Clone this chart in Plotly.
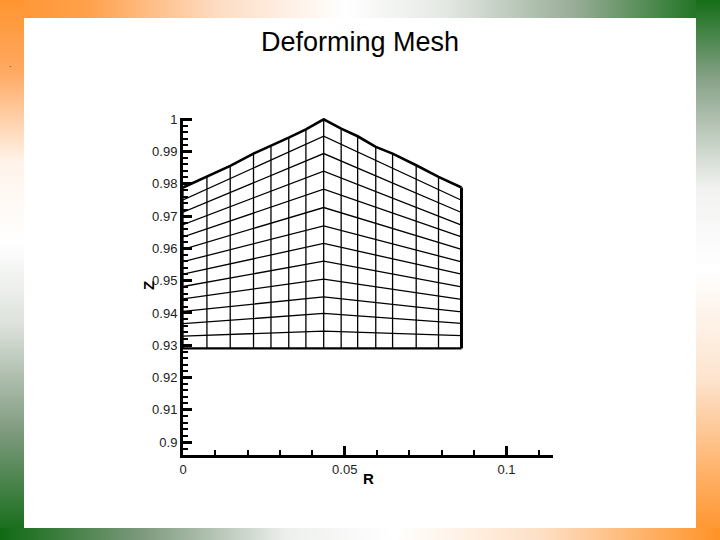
import base64
import plotly.graph_objects as go

# ---- data ----
col_r = [0.0, 0.0074, 0.0146, 0.0218, 0.0272, 0.0327, 0.0380, 0.0435,
         0.0489, 0.0540, 0.0596, 0.0648, 0.0721, 0.0790, 0.0861]
top_z = [0.97886, 0.98214, 0.98555, 0.98938, 0.99174, 0.99434, 0.99690, 1.0,
         0.99712, 0.99474, 0.99143, 0.98938, 0.98576, 0.98214, 0.97886]
bottom_z = 0.92903
# row heights (bottom -> top) at the left edge, at the peak column and at the right edge
row_left = [0.92903, 0.93284, 0.93668, 0.94051, 0.94435, 0.94819, 0.95203,
            0.95587, 0.95970, 0.96354, 0.96738, 0.97122, 0.97502, 0.97886]
row_peak = [0.92903, 0.93439, 0.93986, 0.94500, 0.95048, 0.95605, 0.96153,
            0.96698, 0.97267, 0.97833, 0.98391, 0.98938, 0.99474, 1.0]
row_right = [0.92903, 0.93299, 0.93677, 0.94036, 0.94420, 0.94810, 0.95203,
             0.95583, 0.95967, 0.96357, 0.96719, 0.97112, 0.97493, 0.97886]
peak_col = 7

x_range = [0.0, 0.1144]
y_range = [0.896, 1.0004]

W, H = 720, 540
ML, MR, MT, MB = 183, 167, 118, 85

fig = go.Figure()

# horizontal (constant-row) mesh lines
n_rows = len(row_left)
for k in range(n_rows - 1):
    fig.add_trace(go.Scatter(
        x=[col_r[0], col_r[peak_col], col_r[-1]],
        y=[row_left[k], row_peak[k], row_right[k]],
        mode="lines", line=dict(color="black", width=2.2 if k == 0 else 1.3),
        hoverinfo="skip", showlegend=False))

# vertical (constant-r) mesh lines
for i, r in enumerate(col_r):
    w = 3 if i == len(col_r) - 1 else 1.3
    fig.add_trace(go.Scatter(
        x=[r, r], y=[bottom_z, top_z[i]],
        mode="lines", line=dict(color="black", width=w),
        hoverinfo="skip", showlegend=False))

# top boundary
fig.add_trace(go.Scatter(
    x=col_r, y=top_z, mode="lines", line=dict(color="black", width=2.6),
    hoverinfo="skip", showlegend=False))

# ---- background frame (gradient border) ----
svg = f'''<svg xmlns="http://www.w3.org/2000/svg" width="{W}" height="{H}" viewBox="0 0 {W} {H}" preserveAspectRatio="none">
<defs>
<linearGradient id="top" x1="0" y1="0" x2="1" y2="0">
<stop offset="0" stop-color="#FF9530"/><stop offset="0.12" stop-color="#FFA04A"/>
<stop offset="0.3" stop-color="#FDDCC2"/><stop offset="0.48" stop-color="#FFFFFF"/>
<stop offset="0.62" stop-color="#E4E8E3"/><stop offset="0.8" stop-color="#97AC96"/>
<stop offset="1" stop-color="#0C6A10"/></linearGradient>
<linearGradient id="left" x1="0" y1="0" x2="0" y2="1">
<stop offset="0" stop-color="#FF9530"/><stop offset="0.13" stop-color="#FFA860"/>
<stop offset="0.3" stop-color="#FFF3EA"/><stop offset="0.45" stop-color="#FFFFFF"/>
<stop offset="0.6" stop-color="#DDE2DC"/><stop offset="0.8" stop-color="#7E9A7E"/>
<stop offset="1" stop-color="#0E6A12"/></linearGradient>
<linearGradient id="right" x1="0" y1="0" x2="0" y2="1">
<stop offset="0" stop-color="#156E18"/><stop offset="0.15" stop-color="#8AA38A"/>
<stop offset="0.35" stop-color="#F2F3F1"/><stop offset="0.5" stop-color="#FFFFFF"/>
<stop offset="0.7" stop-color="#FDE4CF"/><stop offset="0.88" stop-color="#FFB066"/>
<stop offset="1" stop-color="#FF9226"/></linearGradient>
<linearGradient id="bot" x1="0" y1="0" x2="1" y2="0">
<stop offset="0" stop-color="#0E6A12"/><stop offset="0.2" stop-color="#7E9A7E"/>
<stop offset="0.4" stop-color="#EEF0ED"/><stop offset="0.55" stop-color="#FFFFFF"/>
<stop offset="0.75" stop-color="#FDE0C6"/><stop offset="1" stop-color="#FF9226"/></linearGradient>
</defs>
<rect x="0" y="0" width="{W}" height="{H}" fill="#FFFFFF"/>
<rect x="0" y="0" width="{W}" height="18" fill="url(#top)"/>
<rect x="0" y="0" width="24" height="{H}" fill="url(#left)"/>
<rect x="696" y="0" width="24" height="{H}" fill="url(#right)"/>
<rect x="0" y="528" width="{W}" height="12" fill="url(#bot)"/>
<rect x="24" y="18" width="672" height="510" fill="#FFFFFF"/>
</svg>'''
src = "data:image/svg+xml;base64," + base64.b64encode(svg.encode()).decode()

pw = W - ML - MR
ph = H - MT - MB

fig.add_layout_image(dict(
    source=src, xref="paper", yref="paper",
    x=-ML / pw, y=1 + MT / ph, sizex=W / pw, sizey=H / ph,
    xanchor="left", yanchor="top", sizing="stretch", layer="below"))

tickfont = dict(family="Liberation Sans, Arial, sans-serif", size=13, color="#222222")

fig.update_layout(
    width=W, height=H,
    margin=dict(l=ML, r=MR, t=MT, b=MB, pad=0),
    paper_bgcolor="white", plot_bgcolor="rgba(0,0,0,0)",
    showlegend=False,
    xaxis=dict(range=x_range, showgrid=False, zeroline=False,
               showline=True, linecolor="black", linewidth=3,
               ticks="inside", ticklen=9, tickwidth=3, tickcolor="black",
               tick0=0, dtick=0.05, tickfont=tickfont,
               minor=dict(ticks="inside", ticklen=5, tickwidth=1.5,
                          tickcolor="black", dtick=0.01, showgrid=False)),
    yaxis=dict(range=y_range, showgrid=False, zeroline=False,
               showline=True, linecolor="black", linewidth=3,
               ticks="inside", ticklen=9, tickwidth=3, tickcolor="black",
               tick0=0.9, dtick=0.01, tickfont=tickfont,
               minor=dict(ticks="inside", ticklen=5, tickwidth=1.5,
                          tickcolor="black", dtick=0.002, showgrid=False)),
)

fig.add_annotation(text="Deforming Mesh", xref="paper", yref="paper",
                   x=(360 - ML) / pw, y=1 + (MT - 42) / ph,
                   showarrow=False, xanchor="center", yanchor="middle",
                   font=dict(family="Liberation Sans, Arial, sans-serif", size=27, color="black"))
fig.add_annotation(text="<b>R</b>", xref="paper", yref="paper",
                   x=(368 - ML) / pw, y=-(478 - (H - MB)) / ph,
                   showarrow=False, xanchor="center", yanchor="middle",
                   font=dict(family="Liberation Sans, Arial, sans-serif", size=15, color="black"))
fig.add_annotation(text="<b>Z</b>", xref="paper", yref="paper",
                   x=(148 - ML) / pw, y=1 - (286 - MT) / ph, textangle=-90,
                   showarrow=False, xanchor="center", yanchor="middle",
                   font=dict(family="Liberation Sans, Arial, sans-serif", size=15, color="black"))
fig.add_annotation(text=".", xref="paper", yref="paper",
                   x=(10 - ML) / pw, y=1 - (64 - MT) / ph,
                   showarrow=False, xanchor="center", yanchor="middle",
                   font=dict(family="Liberation Sans, Arial, sans-serif", size=9, color="#663300"))

fig.write_html("out.html",
               config={"displayModeBar": False},
               post_script="document.body.style.margin='0';document.body.style.overflow='hidden';")
